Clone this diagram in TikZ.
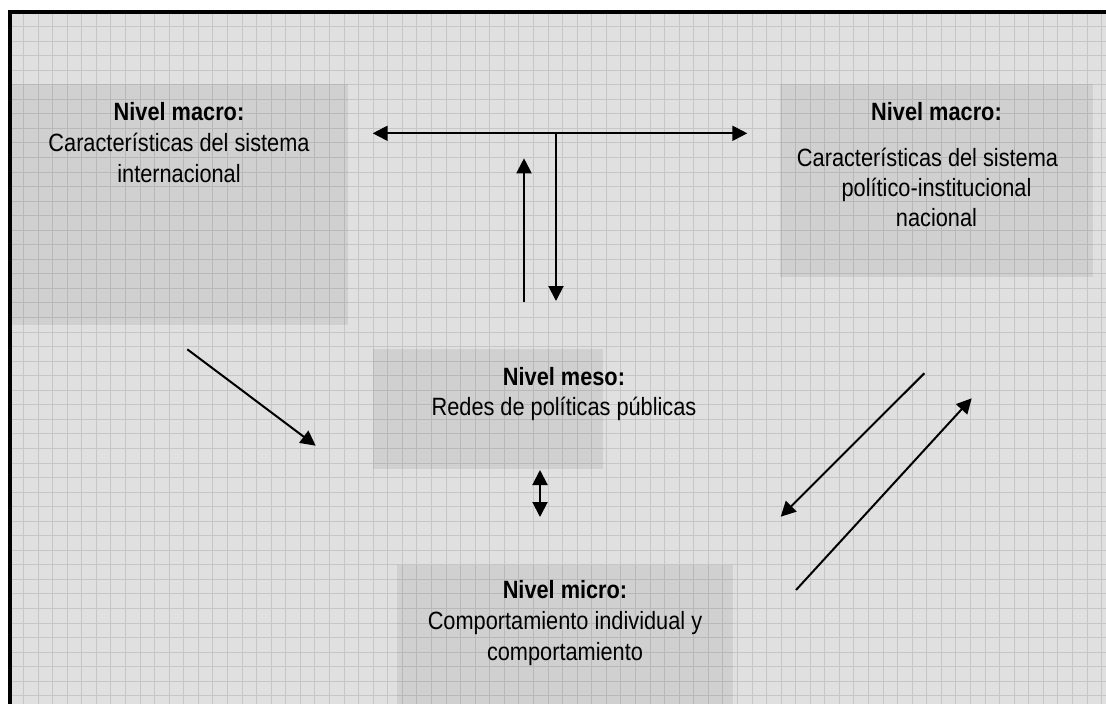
\documentclass[tikz,border=0pt]{standalone}
\usepackage{fontspec}
\setmainfont{Liberation Sans}[FakeStretch=0.87]
\usetikzlibrary{arrows.meta}
\definecolor{bggray}{RGB}{224,224,224}
\definecolor{gridgray}{RGB}{198,198,198}
\begin{document}
\begin{tikzpicture}[x=1pt,y=-1pt,
  boxnode/.style={draw=none, fill=black, fill opacity=0.07, inner sep=0pt, outer sep=0pt, anchor=north west},
  txt/.style={anchor=north, inner sep=0pt, align=center, font=\fontsize{25}{31}\selectfont},
  conn/.style={line width=2pt, -{Triangle[length=15pt,width=15pt]}},
  conn2/.style={line width=2pt, {Triangle[length=15pt,width=15pt]}-{Triangle[length=15pt,width=15pt]}},
  gridline/.style={gridgray, line width=1pt}]
\useasboundingbox (0,0) rectangle (1106,704);
\fill[white] (0,0) rectangle (1106,704);
\fill[bggray] (10,12) rectangle (1106,704);
% grid
\foreach \i in {0,...,74} {\draw[gridline] ({23.5+14.57*\i},14) -- ({23.5+14.57*\i},704);}
\foreach \j in {0,...,46} {\draw[gridline] (12,{26.5+14.55*\j}) -- (1106,{26.5+14.55*\j});}
% frame
\draw[line width=4pt, line join=miter] (10,704) -- (10,12) -- (1106,12);
% boxes
\node[boxnode, minimum width=336pt, minimum height=241pt] (L) at (12,84) {};
\node[boxnode, minimum width=313pt, minimum height=193pt] (R) at (780,84) {};
\node[boxnode, minimum width=230pt, minimum height=120pt] (M) at (373,349) {};
\node[boxnode, minimum width=336pt, minimum height=139pt] (m) at (397,565) {};
% texts
\node[txt] (Lt) at (179,102) {\textbf{Nivel macro:}\\Características del sistema\\internacional};
\node[txt, font=\fontsize{25}{30}\selectfont] (Rt) at (936.5,102) {\textbf{Nivel macro:}\\[16pt]\mbox{Características del sistema\hspace{18pt}}\\político-institucional\\nacional};
\node[txt, font=\fontsize{25}{30}\selectfont] (Mt) at (564,367) {\textbf{Nivel meso:}\\Redes de políticas públicas};
\node[txt] (mt) at (565,580) {\textbf{Nivel micro:}\\Comportamiento individual y\\comportamiento};
% connectors
\coordinate (h1) at (372.7,133.3);
\coordinate (h2) at (747.3,133.3);
\coordinate (t0) at (556,133.3);
\coordinate (t1) at (556,301);
\coordinate (u0) at (524,302.3);
\coordinate (u1) at (524,158.3);
\coordinate (d0) at (187.3,349.3);
\coordinate (d1) at (315.7,445.7);
\coordinate (s0) at (540,470);
\coordinate (s1) at (540,517);
\coordinate (r0) at (924.3,373.3);
\coordinate (r1) at (780.7,516.7);
\coordinate (q0) at (796,590);
\coordinate (q1) at (971.7,398.3);
\draw[conn2] (h1) -- (h2);
\draw[conn] (t0) -- (t1);
\draw[conn] (u0) -- (u1);
\draw[conn] (d0) -- (d1);
\draw[conn2] (s0) -- (s1);
\draw[conn] (r0) -- (r1);
\draw[conn] (q0) -- (q1);
\end{tikzpicture}
\end{document}
